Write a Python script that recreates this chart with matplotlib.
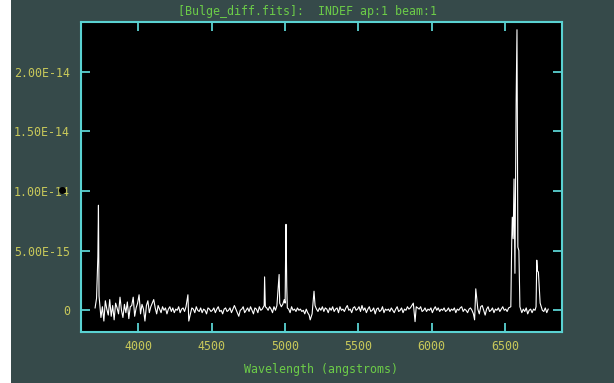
import numpy as np
import matplotlib.pyplot as plt
from matplotlib.patches import Rectangle

# continuum, 10 A steps from 3705 A, flux in 1e-15 units
cont_start = 3705
cont_step = 10
cont_flux = [
    0.2, 1.0, 0.0, 0.0, -0.6, 0.3, -0.9, 0.8, 0.1, -0.4, 0.9, -0.5, 0.4, -0.8, 0.6, 0.2, -0.3, 1.1, 0.0, -0.6,
    0.5, -0.2, 0.7, -0.7, 0.3, 0.4, 1.1, -0.5, 0.2, 0.6, 1.3, -0.3, 0.5, 0.1, -0.9, 0.4, 0.8, -0.2, 0.3, 0.6,
    0.9, 0.2, -0.3, 0.4, 0.1, -0.2, 0.3, 0.0, 0.2, -0.3, 0.1, 0.3, -0.1, 0.2, -0.2, 0.1, 0.0, 0.3, -0.2, 0.1,
    0.2, -0.1, 0.3, 0.0, 0.0, -0.3, 0.2, 0.1, -0.2, 0.3, 0.0, -0.1, 0.2, -0.2, 0.1, 0.0, -0.3, 0.2, 0.1, -0.1,
    0.0, 0.2, -0.2, 0.1, 0.3, -0.1, 0.0, -0.3, 0.1, 0.2, -0.1, 0.0, 0.2, -0.2, 0.1, 0.4, 0.1, -0.2, -0.5, 0.0,
    0.1, 0.3, -0.2, 0.0, 0.2, -0.1, 0.3, 0.0, -0.3, 0.2, 0.1, -0.2, 0.3, 0.0, 0.1, 0.4, -0.1, 0.2, 0.0, 0.3,
    0.1, -0.2, 0.3, 0.0, 0.4, 0.2, 0.7, 0.3, 0.5, 0.9, 0.6, 0.2, 0.1, -0.2, 0.3, 0.0, 0.1, -0.1, 0.2, 0.0,
    0.1, -0.1, 0.0, -0.3, 0.1, -0.2, -0.4, 0.0, -0.3, 0.2, 0.4, 0.1, -0.1, 0.2, 0.0, 0.3, -0.1, 0.2, 0.1, -0.2,
    0.2, 0.0, 0.3, -0.1, 0.1, 0.2, -0.2, 0.3, 0.0, 0.1, -0.1, 0.2, 0.4, 0.0, 0.1, -0.2, 0.2, 0.3, 0.0, 0.1,
    0.3, -0.1, 0.4, 0.0, 0.2, -0.2, 0.1, 0.3, -0.1, 0.0, 0.2, -0.3, 0.1, 0.2, -0.1, 0.0, 0.3, -0.2, 0.1, 0.0,
    0.1, -0.1, 0.2, 0.0, -0.2, 0.1, 0.3, -0.1, 0.0, 0.2, -0.2, 0.1, 0.0, 0.3, 0.1, 0.2, 0.4, 0.6, 0.0, 0.3,
    0.2, 0.1, 0.3, -0.1, 0.0, 0.2, -0.1, 0.1, 0.0, 0.2, -0.2, 0.1, 0.3, 0.0, 0.2, -0.1, 0.1, 0.0, 0.2, -0.1,
    0.0, 0.2, -0.1, 0.1, 0.0, 0.2, -0.2, 0.1, 0.0, 0.2, 0.3, -0.1, 0.1, 0.0, -0.2, 0.1, 0.2, 0.0, -0.3, 0.0,
    0.4, 0.1, -0.3, 0.3, 0.4, 0.0, -0.4, 0.1, 0.3, -0.1, 0.0, 0.2, -0.2, 0.1, 0.0, 0.2, -0.1, 0.1, 0.3, 0.0,
    0.1, -0.1, 0.2, 0.0, 0.0, 0.0, 0.0, 0.0, 0.0, 0.0, 0.0, -0.2, 0.1, -0.1, 0.2, -0.3, 0.0, 0.1, -0.2, 0.1,
    0.0, 0.0, 0.0, 0.0, 0.0, 0.0, -0.1, 0.2, -0.2, 0.1,
]

# emission / absorption features (wavelength A, flux 1e-15)
line_wave = [3724, 3728, 3732,
             4338, 4344,
             4858, 4861, 4866,
             4960, 4964,
             5001, 5004, 5007, 5012, 5016,
             5172, 5198,
             5887,
             6293, 6301,
             6540, 6546, 6550, 6556, 6562, 6568, 6576, 6582, 6588, 6595, 6602,
             6712, 6717, 6722, 6728, 6734, 6740]
line_flux = [4.5, 8.8, 1.2,
             1.3, -0.9,
             0.4, 2.8, 0.3,
             3.0, 0.6,
             0.6, 4.4, 7.2, 2.0, 0.2,
             -0.8, 1.6,
             -0.95,
             -0.8, 1.8,
             0.3, 5.6, 7.8, 6.0, 11.0, 3.1, 17.2, 23.5, 5.3, 5.0, 0.3,
             0.3, 4.2, 3.3, 3.2, 1.9, 0.6]

xticks = [4000, 4500, 5000, 5500, 6000, 6500]
yticks = [0, 5e-15, 1e-14, 1.5e-14, 2e-14]
ytick_labels = ["0", "5.00E-15", "1.00E-14", "1.50E-14", "2.00E-14"]

bg = "#364a4a"
cyan = "#5ad2d2"
yellow = "#c8c85a"
green = "#6ccc48"

cont_wave = cont_start + cont_step * np.arange(len(cont_flux))
cont_flux = np.array(cont_flux)
lw_arr = np.array(line_wave)
keep = np.abs(cont_wave[:, None] - lw_arr[None, :]).min(axis=1) > 5
wave = np.concatenate([cont_wave[keep], lw_arr])
flux = np.concatenate([cont_flux[keep], np.array(line_flux)]) * 1e-15
order = np.argsort(wave)
wave, flux = wave[order], flux[order]

plt.rcParams['font.family'] = 'DejaVu Sans Mono'
fig = plt.figure(figsize=(6.14, 3.83), dpi=100, facecolor=bg)
fig.add_artist(Rectangle((0, 0), 11 / 614, 1, transform=fig.transFigure,
                         facecolor="white", edgecolor="none"))

ax = fig.add_axes([81 / 614, 1 - 332 / 383, 481 / 614, 310.5 / 383])
ax.set_facecolor("black")
ax.plot(wave, flux, color="white", lw=0.8)
ax.set_xlim(3609, 6889)
ax.set_ylim(-1.817e-15, 2.419e-14)

ax.set_xticks(xticks)
ax.set_yticks(yticks)
ax.set_yticklabels(ytick_labels)
ax.tick_params(direction="in", length=6.5, width=1.3, color=cyan,
               labelcolor=yellow, labelsize=8.4, top=True, right=True)
ax.tick_params(axis="x", pad=6)
ax.tick_params(axis="y", pad=8)
for s in ax.spines.values():
    s.set_color(cyan)
    s.set_linewidth(1.5)

ax.set_xlabel("Wavelength (angstroms)", color=green, fontsize=8.4, labelpad=7)
fig.text(308 / 614, 1 - 11.7 / 383, "[Bulge_diff.fits]:  INDEF ap:1 beam:1",
         color=green, fontsize=8.4, ha="center", va="center")

# cursor dot left of the axis
fig.add_artist(plt.Line2D([62 / 614], [1 - 190 / 383], marker="o", markersize=4,
                          color="black", transform=fig.transFigure))

fig.savefig("out.png", dpi=100, facecolor=bg)
